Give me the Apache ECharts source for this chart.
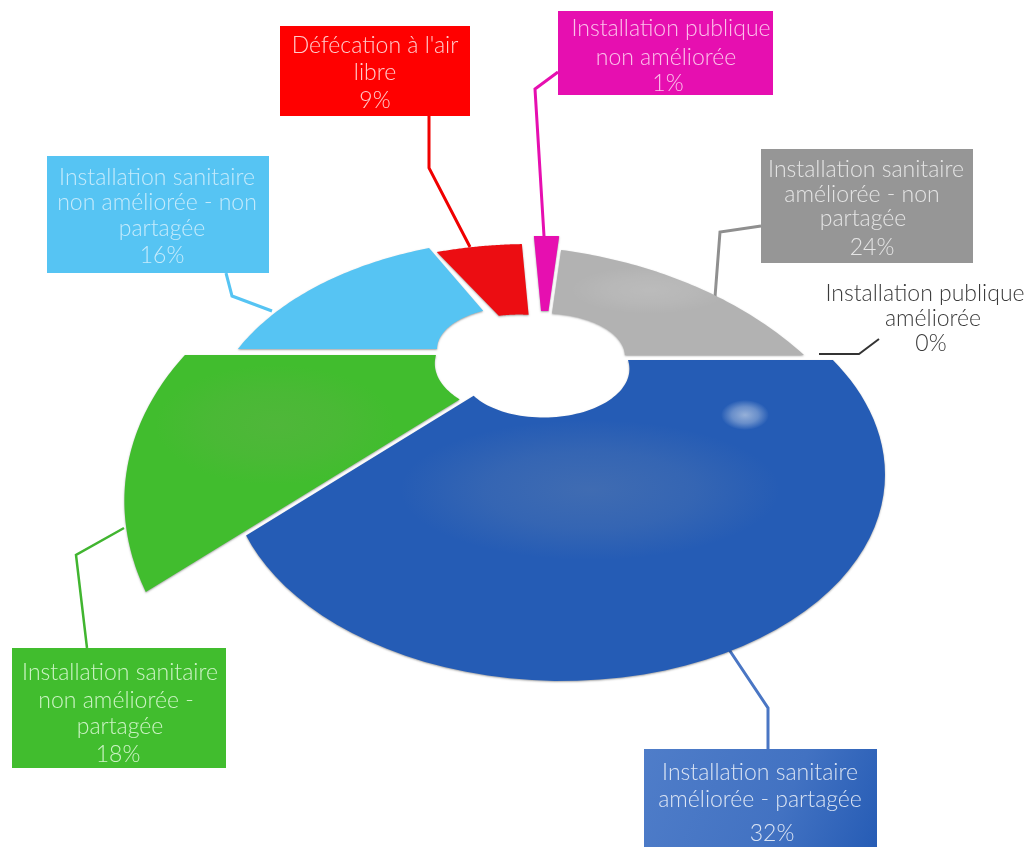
<!DOCTYPE html>
<html>
<head>
<meta charset="utf-8">
<style>html,body{margin:0;padding:0;background:#fff}#c{width:1029px;height:847px}</style>
<script src="https://cdn.jsdelivr.net/npm/echarts@6/dist/echarts.min.js"></script>
</head>
<body>
<div id="c"></div>
<script>
// ---- data (clockwise from the right-hand horizontal) ----
const categories = [
  'Installation sanitaire améliorée - partagée',
  'Installation sanitaire non améliorée - partagée',
  'Installation sanitaire non améliorée - non partagée',
  "Défécation à l'air libre",
  'Installation publique non améliorée',
  'Installation sanitaire améliorée - non partagée',
  'Installation publique améliorée'
];
const values = [32, 18, 16, 9, 1, 24, 0];
const labelLines = [
  ['Installation sanitaire', 'améliorée - partagée'],
  ['Installation sanitaire', 'non améliorée -', 'partagée'],
  ['Installation sanitaire', 'non améliorée - non', 'partagée'],
  ["Défécation à l'air", 'libre'],
  ['Installation publique', 'non améliorée'],
  ['Installation sanitaire', 'améliorée - non', 'partagée'],
  ['Installation publique', 'améliorée']
];

// ---- styles and layout ----
const sliceColors = ['#255cb5', '#41bd2e', '#56c4f3', '#ec0d12', '#e60fb0', '#b2b2b2', '#333333'];
const boxColors = [
  {type:'linear',x:0,y:0,x2:1,y2:1,colorStops:[{offset:0,color:'#4f7dc9'},{offset:.6,color:'#4272c2'},{offset:1,color:'#265cb5'}]},
  '#41bd2e', '#56c4f3', '#ff0000', '#e60fb0', '#969696', null
];
const leaderColors = ['#4a76c4', '#41b530', '#56c4f3', '#f00000', '#e60fb0', '#8f8f8f', '#333333'];
const textColors = ['rgba(255,255,255,.8)','rgba(235,255,230,.82)','rgba(240,250,255,.72)','rgba(255,225,225,.9)','rgba(255,225,245,.85)','rgba(255,255,255,.75)','#3a3a3a'];
const boxes = [[644,749,233,98],[12,648,214,120],[47,156,222,117],[280,26,190,90],[558,11,215,84],[761,149,212,114],null];
const lineAnchors = [
  [[760,773],[760,800],[772,834]],
  [[120,673],[116,701],[120,727],[118,755]],
  [[157,178],[157,203],[162,229],[162,256]],
  [[375,46],[375,73],[375,101]],
  [[671,29],[666,58],[668,84]],
  [[866,170],[862,195],[863,219],[872,248]],
  [[925,294],[933,319],[931,344]]
];
const leaders = [
  [[728,648],[768,708],[768,749]],
  [[124,528],[76,555],[87,648]],
  [[226,273],[232,296],[272,311]],
  [[429,116],[429,168],[470,247]],
  [[558,72],[535,89],[544,236]],
  [[761,226],[720,232],[715,297]],
  [[819,354],[859,354],[879,339]]
];
const leaderWidths = [3,2.5,3,3,3,3,2];
// perspective of the tilted disc
const R = 300, A = 164, B = 0.49;
const sliceCentres = [[532,360],[532,355],[516,349],[532,350],[544,342],[546,355],null];
const outerRadii = [[1.003,1.015,.94],[1.133,1.134,1.157],[.927,.945,.975],[.956,.95,.946],[.947,.947,.947],[.937,.82,.86],null];
const innerRadii = [[.32,.31,.264],[.32,.32,.32],[.263,.28,.29],[.263,.25,.24],[.208,.208,.208],[.29,.28,.263],null];
// share-of-circle angle -> drawn angle (the source's 3D view distorts angles)
const angleNodes = [[0,0],[115.2,131.7],[180,180],[237.6,242],[270,267],[273.6,274.5],[360,360]];
const endAngleTrim = [0,0,2.8,0,0,0,0];
const glows = [
  [590,490,190,70,'rgba(135,150,170,.27)',0],
  [745,415,24,15,'rgba(225,232,240,.6)',0],
  [650,290,80,24,'rgba(255,255,255,.12)',5],
  [275,425,120,60,'rgba(130,160,100,.22)',1]
];

function warp(a){
  for (let i=1;i<angleNodes.length;i++){
    const p=angleNodes[i-1], q=angleNodes[i];
    if (a<=q[0]) return p[1]+(q[1]-p[1])*(a-p[0])/(q[0]-p[0]);
  }
  return a;
}
function project(c, deg, rho){
  const t=deg*Math.PI/180, X=rho*Math.cos(t), Y=rho*Math.sin(t), d=1-B*Y;
  return [c[0]+R*X/d, c[1]+A*Y/d];
}
function quad(v,t){
  return v[0]*2*(t-.5)*(t-1) + v[1]*4*t*(1-t) + v[2]*2*t*(t-.5);
}
const total = values.reduce((s,v)=>s+v,0);

function renderItem(params, api){
  const i = params.dataIndex, val = api.value(1);
  const children = [];
  // leader
  children.push({type:'polyline',shape:{points:leaders[i]},style:{stroke:leaderColors[i],lineWidth:leaderWidths[i],fill:null}});
  // slice
  if (val>0){
    let before=0; for(let k=0;k<i;k++) before+=values[k];
    const a0=warp(before/total*360), a1=warp((before+val)/total*360)+endAngleTrim[i];
    const c=sliceCentres[i], pts=[], N=60;
    for(let k=0;k<=N;k++){const t=k/N; pts.push(project(c,a0+(a1-a0)*t,quad(outerRadii[i],t)));}
    for(let k=N;k>=0;k--){const t=k/N; pts.push(project(c,a0+(a1-a0)*t,quad(innerRadii[i],t)));}
    children.push({type:'polygon',shape:{points:pts},style:{fill:sliceColors[i],shadowBlur:2,shadowColor:'rgba(0,0,0,.35)',shadowOffsetY:1}});
    glows.filter(g=>g[5]===i).forEach(g=>{
      children.push({type:'circle',shape:{cx:0,cy:0,r:100},x:g[0],y:g[1],scaleX:g[2]/100,scaleY:g[3]/100,
        style:{fill:{type:'radial',x:.5,y:.5,r:.5,colorStops:[{offset:0,color:g[4]},{offset:.55,color:g[4].replace(/[\d.]+\)$/,m=>(parseFloat(m)*.6)+')')},{offset:1,color:g[4].replace(/[\d.]+\)$/,'0)')}]}}});
    });
  }
  // label box
  if (boxes[i]){
    const b=boxes[i];
    children.push({type:'rect',shape:{x:b[0],y:b[1],width:b[2],height:b[3]},style:{fill:boxColors[i]}});
  }
  const lines=labelLines[i].concat([val+'%']);
  lines.forEach((s,k)=>{
    const a=lineAnchors[i][k];
    children.push({type:'text',x:a[0],y:a[1],style:{text:s,fill:textColors[i],font:'300 23px Lato',align:'center',verticalAlign:'middle'}});
  });
  return {type:'group',children};
}

const chart = echarts.init(document.getElementById('c'), null, {renderer:'canvas'});
chart.setOption({
  animation:false,
  backgroundColor:'#ffffff',
  series:[{
    type:'custom',
    coordinateSystem:'none',
    renderItem,
    encode:{itemName:0,value:1},
    data:categories.map((n,i)=>[n,values[i]])
  }]
});
</script>
</body>
</html>
